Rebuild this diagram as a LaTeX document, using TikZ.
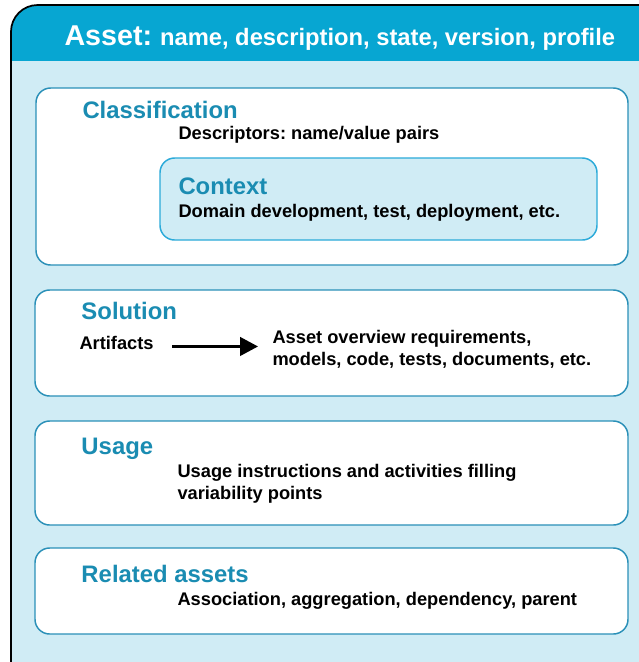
\documentclass[tikz,border=0pt]{standalone}
\usepackage{fontspec}
\setmainfont{Liberation Sans}
\usetikzlibrary{arrows.meta}
\frenchspacing

\definecolor{headblue}{HTML}{07A6D2}
\definecolor{paleblue}{HTML}{D0ECF5}
\definecolor{titleteal}{HTML}{1A8CB2}
\definecolor{boxline}{HTML}{2A90B8}
\definecolor{ctxline}{HTML}{2BAAD9}

\tikzset{every picture/.style={line width=0.75pt}}
\tikzset{
  partbox/.style={draw=boxline, fill=white, line width=1.1pt, rounded corners=11},
  ctxbox/.style={draw=ctxline, fill=paleblue, line width=1.1pt, rounded corners=11},
  parttitle/.style={anchor=base west, inner sep=0pt, text=titleteal, font=\fontsize{17.9}{21}\bfseries\selectfont},
  parttext/.style={anchor=base west, inner sep=0pt, align=left, font=\fontsize{13.7}{16.5}\bfseries\selectfont},
}

\begin{document}
\begin{tikzpicture}[x=0.75pt,y=0.75pt,yscale=-1]
\useasboundingbox (0,0) rectangle (639,662);
\clip (0,0) rectangle (639,662);

%Outer Rounded Rect
\begin{scope}
\clip[rounded corners=20] (11,5) rectangle (680,700);
\fill[paleblue] (0,0) rectangle (680,700);
\fill[headblue] (0,0) rectangle (680,61);
\end{scope}
\draw[line width=1.3pt, rounded corners=20] (11,5) rectangle (680,700);

% Text Node
\node (asset) [anchor=base west, inner sep=0pt, text=white] at (64,45)
  {\fontsize{21.5}{24}\bfseries\selectfont Asset: \fontsize{17.8}{20}\selectfont name, description, state, version, profile};

%Rounded Rect
\draw[partbox] (36,88) rectangle (628,265);
%Rounded Rect
\draw[ctxbox] (160,158) rectangle (597,240);
%Rounded Rect
\draw[partbox] (35,290) rectangle (628,396);
%Rounded Rect
\draw[partbox] (35,421) rectangle (628,525);
%Rounded Rect
\draw[partbox] (35,548) rectangle (628,634);

% Text Node
\node (classif) [parttitle] at (82,118) {Classification};
\node (descr) [parttext] at (178,139) {Descriptors: name/value pairs};
% Text Node
\node (context) [parttitle] at (178,194) {Context};
\node (domain) [parttext] at (178,217) {Domain development, test, deployment, etc.};
% Text Node
\node (solution) [parttitle] at (81,319) {Solution};
\node (artifacts) [parttext] at (79,349) {Artifacts};
\node (overview) [parttext] at (272,365) {Asset overview requirements,\\models, code, tests, documents, etc.};
% Text Node
\node (usage) [parttitle] at (81,454) {Usage};
\node (instr) [parttext] at (177,499) {Usage instructions and activities filling\\variability points};
% Text Node
\node (related) [parttitle] at (81,582) {Related assets};
\node (assoc) [parttext] at (177,605) {Association, aggregation, dependency, parent};

%Straight Lines
\draw[line width=1.8pt, -{Triangle[length=13.5pt,width=14pt]}, shorten <=13.5pt, shorten >=10.5pt]
  ([yshift=3]artifacts.east) -- ([yshift=3]artifacts.east -| overview.west);

\end{tikzpicture}
\end{document}
